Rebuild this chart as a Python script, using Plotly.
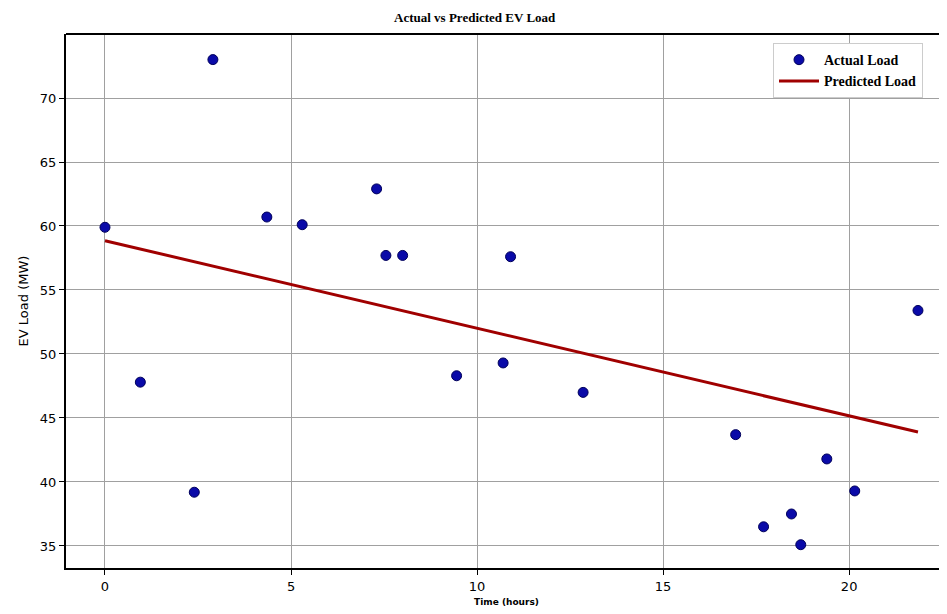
import plotly.graph_objects as go

time_hours = [0.0, 0.95, 2.4, 2.9, 4.35, 5.3, 7.3, 7.55, 8.0, 9.45, 10.7, 10.9, 12.85,
              16.95, 17.7, 18.45, 18.7, 19.4, 20.15, 21.85]
actual_load = [59.9, 47.8, 39.2, 73.0, 60.7, 60.1, 62.9, 57.7, 57.7, 48.3, 49.3, 57.6, 47.0,
               43.7, 36.5, 37.5, 35.1, 41.8, 39.3, 53.4]
pred_time = [0.0, 21.85]
pred_load = [58.85, 43.9]
x_ticks = [0, 5, 10, 15, 20]
y_ticks = [35, 40, 45, 50, 55, 60, 65, 70]

fig = go.Figure()
fig.add_trace(go.Scatter(x=time_hours, y=actual_load, mode="markers", name="Actual Load",
                         marker=dict(color="#0a0aa8", size=10, line=dict(color="#00005a", width=1))))
fig.add_trace(go.Scatter(x=pred_time, y=pred_load, mode="lines", name="Predicted Load",
                         line=dict(color="#a00000", width=3)))

fig.update_layout(
    width=939, height=606,
    margin=dict(l=58, r=0, t=26, b=46),
    paper_bgcolor="white", plot_bgcolor="white",
    title=dict(text="Actual vs Predicted EV Load", x=0.497, xanchor="center", y=0.985, yanchor="middle",
               font=dict(family="Liberation Serif", size=13, color="black", weight="bold")),
    showlegend=True,
    legend=dict(x=0.8025, y=0.983, xanchor="left", yanchor="top", bgcolor="white",
                bordercolor="#cccccc", borderwidth=1,
                font=dict(family="Liberation Serif", size=14, color="black", weight="bold"),
                itemwidth=40, tracegroupgap=2),
    font=dict(family="DejaVu Sans", color="black"),
)
fig.update_xaxes(range=[-1.048, 22.63], tickvals=x_ticks, showgrid=True, gridcolor="#a0a0a0", gridwidth=1,
                 showline=True, linecolor="black", linewidth=2, mirror=False, ticks="outside", ticklen=5,
                 tickcolor="black", tickfont=dict(size=13, family="DejaVu Sans"), zeroline=False,
                 automargin=False,
                 title=dict(text="Time (hours)", font=dict(size=9, family="DejaVu Sans", weight="bold"), standoff=6))
fig.update_yaxes(range=[33.28, 75.0], tickvals=y_ticks, showgrid=True, gridcolor="#a0a0a0", gridwidth=1,
                 showline=True, linecolor="black", linewidth=2, ticks="outside", ticklen=5,
                 tickcolor="black", tickfont=dict(size=13, family="DejaVu Sans"), zeroline=False,
                 automargin=False,
                 title=dict(text="EV Load (MW)", font=dict(size=13, family="DejaVu Sans"), standoff=8))
fig.add_shape(type="line", xref="paper", yref="paper", x0=0, x1=1, y0=1, y1=1,
              line=dict(color="black", width=2))
fig.write_html("out.html")
